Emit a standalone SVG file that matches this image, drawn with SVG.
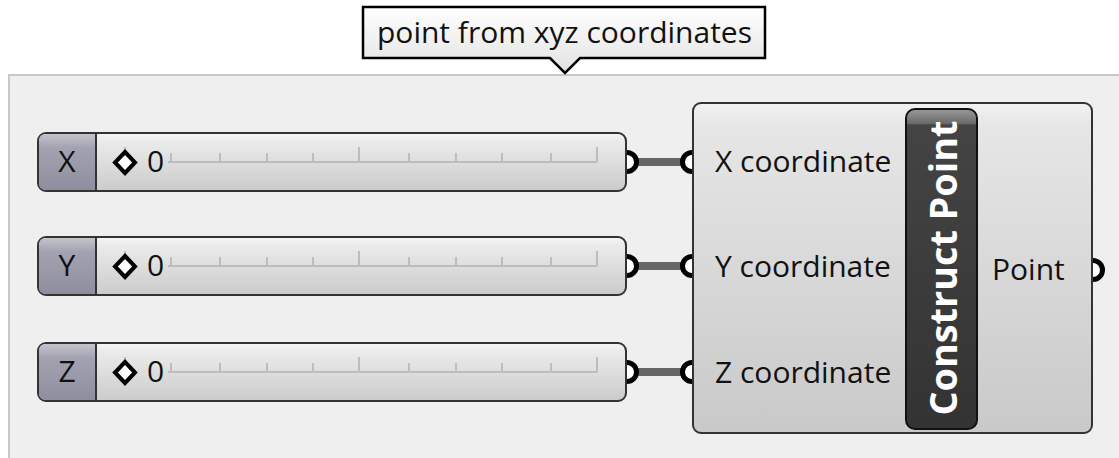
<svg xmlns="http://www.w3.org/2000/svg" width="1119" height="458" viewBox="0 0 1119 458">
<defs>
<linearGradient id="gBody" x1="0" y1="0" x2="0" y2="1">
<stop offset="0" stop-color="#f7f7f7"/><stop offset="0.12" stop-color="#ececec"/><stop offset="1" stop-color="#cbcbcb"/>
</linearGradient>
<linearGradient id="gLab" x1="0" y1="0" x2="0" y2="1">
<stop offset="0" stop-color="#c4c4cc"/><stop offset="0.25" stop-color="#a2a2b0"/><stop offset="1" stop-color="#8e8e9e"/>
</linearGradient>
<linearGradient id="gComp" x1="0" y1="0" x2="0" y2="1">
<stop offset="0" stop-color="#f2f2f2"/><stop offset="0.07" stop-color="#e6e6e6"/><stop offset="1" stop-color="#c9c9c9"/>
</linearGradient>
<linearGradient id="gStrip" x1="0" y1="0" x2="0" y2="1">
<stop offset="0" stop-color="#9a9a9a"/><stop offset="0.045" stop-color="#6a6a6a"/><stop offset="0.05" stop-color="#444"/><stop offset="1" stop-color="#333"/>
</linearGradient>
<linearGradient id="gTip" x1="0" y1="0" x2="0" y2="1">
<stop offset="0" stop-color="#ffffff"/><stop offset="1" stop-color="#e2e2e2"/>
</linearGradient>
</defs>
<style>
.t{font-family:"Open Sans","Noto Sans","DejaVu Sans",sans-serif;font-size:30px;fill:#111}
.body{fill:url(#gBody);stroke:#333;stroke-width:2}
.lab{fill:url(#gLab)}
.sep{stroke:#333;stroke-width:2}
.tick{stroke:#bdbdbd;stroke-width:2}
.port{fill:#fff;stroke:#000;stroke-width:5}
.wire{stroke:#666;stroke-width:8}
.dia{fill:#fff;stroke:#000;stroke-width:4}
</style>
<rect x="0" y="0" width="1119" height="458" fill="#fff"/>
<g id="group">
<rect x="9" y="75" width="1120" height="400" fill="#efefef" stroke="#c8c8c8" stroke-width="2"/>
</g>
<g id="tooltip">
<path d="M363,7 H765 V58 H580 L565,73 L550,58 H363 Z" fill="url(#gTip)" stroke="#000" stroke-width="2.5"/>
<text class="t" x="377" y="43">point from xyz coordinates</text>
</g>
<g id="connectors">
<line class="wire" x1="636" y1="162" x2="684" y2="162"/>
<line class="wire" x1="636" y1="266" x2="684" y2="266"/>
<line class="wire" x1="636" y1="372" x2="684" y2="372"/>
</g>
<g id="sliderX">
<circle class="port" cx="627" cy="162" r="9.5"/>
<rect class="body" x="38" y="133" width="588" height="58" rx="8"/>
<path class="lab" d="M46,134 H96 V190 H46 Q39,190 39,183 V141 Q39,134 46,134 Z"/>
<line class="sep" x1="96" y1="133" x2="96" y2="191"/>
<line class="tick" x1="168" y1="162" x2="597" y2="162"/>
<path class="tick" d="M125,147V162M171,153V162M220,153V162M267,153V162M313,153V162M359,147V162M409,153V162M456,153V162M502,153V162M551,153V162M597,147V162" fill="none"/>
<path class="dia" d="M125,152 L135,162.5 L125,173 L115,162.5 Z"/>
<text class="t" x="67" y="172" text-anchor="middle">X</text>
<text class="t" x="147" y="172">0</text>
</g>
<g id="sliderY">
<circle class="port" cx="627" cy="266" r="9.5"/>
<rect class="body" x="38" y="237" width="588" height="58" rx="8"/>
<path class="lab" d="M46,238 H96 V294 H46 Q39,294 39,287 V245 Q39,238 46,238 Z"/>
<line class="sep" x1="96" y1="237" x2="96" y2="295"/>
<line class="tick" x1="168" y1="266" x2="597" y2="266"/>
<path class="tick" d="M125,251V266M171,257V266M220,257V266M267,257V266M313,257V266M359,251V266M409,257V266M456,257V266M502,257V266M551,257V266M597,251V266" fill="none"/>
<path class="dia" d="M125,256 L135,266.5 L125,277 L115,266.5 Z"/>
<text class="t" x="67" y="276" text-anchor="middle">Y</text>
<text class="t" x="147" y="276">0</text>
</g>
<g id="sliderZ">
<circle class="port" cx="627" cy="372" r="9.5"/>
<rect class="body" x="38" y="343" width="588" height="58" rx="8"/>
<path class="lab" d="M46,344 H96 V400 H46 Q39,400 39,393 V351 Q39,344 46,344 Z"/>
<line class="sep" x1="96" y1="343" x2="96" y2="401"/>
<line class="tick" x1="168" y1="372" x2="597" y2="372"/>
<path class="tick" d="M125,357V372M171,363V372M220,363V372M267,363V372M313,363V372M359,357V372M409,363V372M456,363V372M502,363V372M551,363V372M597,357V372" fill="none"/>
<path class="dia" d="M125,362 L135,372.5 L125,383 L115,372.5 Z"/>
<text class="t" x="67" y="382" text-anchor="middle">Z</text>
<text class="t" x="147" y="382">0</text>
</g>
<g id="constructPoint">
<circle class="port" cx="692" cy="162" r="9.5"/>
<circle class="port" cx="692" cy="266" r="9.5"/>
<circle class="port" cx="692" cy="372" r="9.5"/>
<circle class="port" cx="1093" cy="270" r="9.5"/>
<rect x="693" y="103" width="399" height="330" rx="8" fill="url(#gComp)" stroke="#333" stroke-width="2"/>
<rect x="906" y="109" width="71" height="320" rx="9" fill="url(#gStrip)" stroke="#111" stroke-width="2"/>
<text class="t" x="715" y="172">X coordinate</text>
<text class="t" x="715" y="277">Y coordinate</text>
<text class="t" x="715" y="383">Z coordinate</text>
<text class="t" x="992" y="280">Point</text>
<text transform="translate(957,268) rotate(-90)" x="0" y="0" text-anchor="middle" textLength="295" lengthAdjust="spacingAndGlyphs" style="font-family:'Open Sans','Noto Sans','DejaVu Sans',sans-serif;font-size:38px;font-weight:bold;fill:#fff">Construct Point</text>
</g>
</svg>
